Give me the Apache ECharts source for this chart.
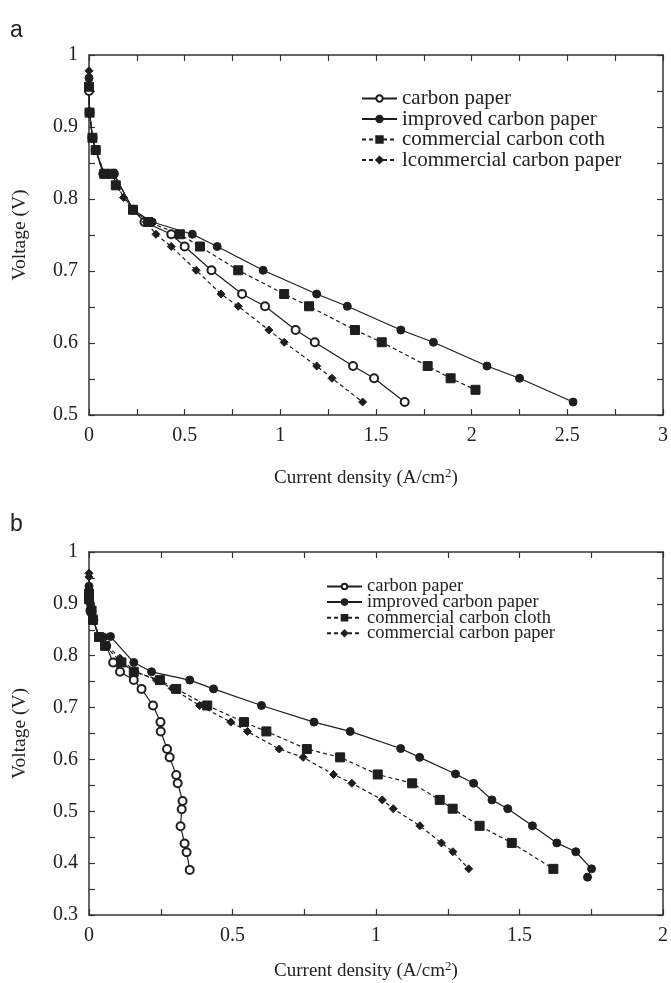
<!DOCTYPE html>
<html>
<head>
<meta charset="utf-8">
<script src="https://cdn.jsdelivr.net/npm/echarts@6/dist/echarts.min.js"></script>
<style>
  html, body { margin: 0; background: #fff; }
  #chart { width: 671px; height: 983px; }
</style>
</head>
<body>
<div id="chart"></div>
<script>
// Polarisation curves, current density (A/cm2) vs voltage (V).

// panel a
const aCarbonPaper = [
  [0, 0.95], [0.003, 0.92], [0.018, 0.885], [0.035, 0.868], [0.075, 0.835], [0.13, 0.835],
  [0.23, 0.785], [0.29, 0.768], [0.43, 0.751], [0.5, 0.734], [0.64, 0.701], [0.8, 0.668],
  [0.92, 0.651], [1.08, 0.618], [1.18, 0.601], [1.38, 0.568], [1.49, 0.551], [1.65, 0.518],
];
const aImproved = [
  [0, 0.968], [0.003, 0.92], [0.018, 0.885], [0.035, 0.868], [0.08, 0.835], [0.13, 0.835],
  [0.23, 0.785], [0.33, 0.768], [0.54, 0.751], [0.67, 0.734], [0.91, 0.701], [1.19, 0.668],
  [1.35, 0.651], [1.63, 0.618], [1.8, 0.601], [2.08, 0.568], [2.25, 0.551], [2.53, 0.518],
];
const aCloth = [
  [0, 0.956], [0.003, 0.92], [0.018, 0.885], [0.035, 0.868], [0.08, 0.835], [0.12, 0.835],
  [0.14, 0.819], [0.23, 0.785], [0.31, 0.768], [0.475, 0.751], [0.58, 0.734], [0.78, 0.701],
  [1.02, 0.668], [1.15, 0.651], [1.39, 0.618], [1.53, 0.601], [1.77, 0.568], [1.89, 0.551],
  [2.02, 0.535],
];
const aCommPaper = [
  [0, 0.978], [0.003, 0.92], [0.018, 0.885], [0.035, 0.868], [0.075, 0.835], [0.12, 0.835],
  [0.18, 0.802], [0.23, 0.785], [0.3, 0.768], [0.35, 0.751], [0.43, 0.734], [0.56, 0.701],
  [0.69, 0.668], [0.78, 0.651], [0.94, 0.618], [1.02, 0.601], [1.19, 0.568], [1.27, 0.551],
  [1.43, 0.518],
];
const aNames = ["carbon paper", "improved carbon paper", "commercial carbon coth", "lcommercial carbon paper"];

// panel b
const bCarbonPaper = [
  [0, 0.915], [0.005, 0.887], [0.015, 0.869], [0.035, 0.836], [0.06, 0.819], [0.084, 0.787],
  [0.108, 0.769], [0.156, 0.753], [0.183, 0.736], [0.223, 0.704], [0.249, 0.672], [0.25, 0.654],
  [0.272, 0.62], [0.281, 0.604], [0.304, 0.57], [0.309, 0.554], [0.326, 0.52], [0.323, 0.504],
  [0.319, 0.471], [0.333, 0.438], [0.34, 0.421], [0.351, 0.387],
];
const bImproved = [
  [0, 0.934], [0.005, 0.9], [0.015, 0.869], [0.035, 0.836], [0.05, 0.836], [0.075, 0.837],
  [0.156, 0.787], [0.218, 0.769], [0.351, 0.753], [0.434, 0.736], [0.601, 0.704], [0.784, 0.672],
  [0.91, 0.654], [1.086, 0.621], [1.152, 0.604], [1.277, 0.572], [1.34, 0.554], [1.404, 0.522],
  [1.459, 0.505], [1.545, 0.472], [1.63, 0.439], [1.696, 0.422], [1.751, 0.389], [1.737, 0.373],
];
const bCloth = [
  [0, 0.92], [0, 0.909], [0.009, 0.887], [0.014, 0.869], [0.035, 0.836], [0.056, 0.819],
  [0.113, 0.787], [0.156, 0.769], [0.247, 0.753], [0.304, 0.736], [0.412, 0.704], [0.54, 0.672],
  [0.618, 0.654], [0.759, 0.62], [0.875, 0.604], [1.006, 0.571], [1.126, 0.554], [1.222, 0.522],
  [1.267, 0.505], [1.361, 0.472], [1.473, 0.439], [1.618, 0.389],
];
const bCommPaper = [
  [0, 0.959], [0, 0.952], [0.005, 0.9], [0.015, 0.869], [0.035, 0.836], [0.108, 0.795],
  [0.16, 0.77], [0.235, 0.753], [0.29, 0.737], [0.385, 0.704], [0.494, 0.672], [0.552, 0.654],
  [0.663, 0.62], [0.746, 0.604], [0.852, 0.571], [0.916, 0.554], [1.022, 0.522], [1.06, 0.505],
  [1.153, 0.472], [1.228, 0.439], [1.268, 0.422], [1.323, 0.389],
];
const bNames = ["carbon paper", "improved carbon paper", "commercial carbon cloth", "commercial carbon paper"];

const INK = "#1e1e1e";
const SERIF = "Liberation Serif";

function makeSeries(name, data, symbol, size, dashed, axis) {
  return {
    name,
    type: "line",
    xAxisIndex: axis,
    yAxisIndex: axis,
    data,
    symbol,
    symbolSize: size,
    lineStyle: { color: INK, width: 1.2, type: dashed ? [4, 3] : "solid" },
    itemStyle: { color: INK, borderColor: INK, borderWidth: 1 },
    animation: false,
  };
}

function valueAxis(grid, min, max, interval, position, labels) {
  return {
    type: "value",
    gridIndex: grid,
    position,
    min,
    max,
    interval,
    axisLine: { show: true, onZero: false, lineStyle: { color: "#333", width: 1.5 } },
    axisTick: { show: true, inside: true, length: 6, lineStyle: { color: "#333", width: 1.2 } },
    minorTick: { show: true, splitNumber: 2, length: 6, lineStyle: { color: "#333", width: 1.2 } },
    splitLine: { show: false },
    axisLabel: {
      show: labels,
      color: "#222",
      fontFamily: SERIF,
      fontSize: 20,
      margin: 11,
    },
  };
}

function xName(axis, gap) {
  return Object.assign(axis, {
    name: "Current density (A/cm{sup|2})",
    nameLocation: "middle",
    nameGap: gap,
    nameTextStyle: {
      color: "#222",
      fontFamily: SERIF,
      fontSize: 19,
      padding: [0, 20, 0, 0],
      rich: { sup: { fontFamily: SERIF, fontSize: 13, color: "#222", padding: [0, 0, 10, 0] } },
    },
  });
}

function yName(axis) {
  return Object.assign(axis, {
    name: "Voltage (V)",
    nameLocation: "middle",
    nameGap: 59,
    nameTextStyle: { color: "#222", fontFamily: SERIF, fontSize: 19.5 },
  });
}

const chart = echarts.init(document.getElementById("chart"));

chart.setOption({
  backgroundColor: "#fff",
  animation: false,
  title: [
    { text: "a", left: 5, top: 14, textStyle: { fontFamily: "Liberation Sans", fontSize: 23, fontWeight: "normal", color: "#222" } },
    { text: "b", left: 5, top: 508, textStyle: { fontFamily: "Liberation Sans", fontSize: 23, fontWeight: "normal", color: "#222" } },
  ],
  grid: [
    { left: 89, top: 55, width: 575, height: 360 },
    { left: 89, top: 552, width: 575, height: 363 },
  ],
  legend: [
    {
      data: aNames,
      orient: "vertical",
      left: 356,
      top: 83,
      itemWidth: 35,
      itemHeight: 8,
      itemGap: -0.5,
      selectedMode: false,
      textStyle: { fontFamily: SERIF, fontSize: 21, color: "#222", lineHeight: 20.5 },
    },
    {
      data: bNames,
      orient: "vertical",
      left: 321,
      top: 572,
      itemWidth: 35,
      itemHeight: 7,
      itemGap: -3.4,
      selectedMode: false,
      textStyle: { fontFamily: SERIF, fontSize: 18.5, color: "#222", lineHeight: 15.6 },
    },
  ],
  xAxis: [
    xName(valueAxis(0, 0, 3, 0.5, "bottom", true), 52),
    valueAxis(0, 0, 3, 0.5, "top", false),
    xName(valueAxis(1, 0, 2, 0.5, "bottom", true), 45),
    valueAxis(1, 0, 2, 0.5, "top", false),
  ],
  yAxis: [
    yName(valueAxis(0, 0.5, 1, 0.1, "left", true)),
    valueAxis(0, 0.5, 1, 0.1, "right", false),
    yName(valueAxis(1, 0.3, 1, 0.1, "left", true)),
    valueAxis(1, 0.3, 1, 0.1, "right", false),
  ],
  series: [
    makeSeries(aNames[0], aCarbonPaper, "emptyCircle", 8, false, 0),
    makeSeries(aNames[1], aImproved, "circle", 8, false, 0),
    makeSeries(aNames[2], aCloth, "rect", 9, true, 0),
    makeSeries(aNames[3], aCommPaper, "diamond", 8, true, 0),
    makeSeries(bNames[0], bCarbonPaper, "emptyCircle", 8, false, 2),
    makeSeries(bNames[1], bImproved, "circle", 8, false, 2),
    makeSeries(bNames[2], bCloth, "rect", 9, true, 2),
    makeSeries(bNames[3], bCommPaper, "diamond", 8, true, 2),
  ],
});
</script>
</body>
</html>
